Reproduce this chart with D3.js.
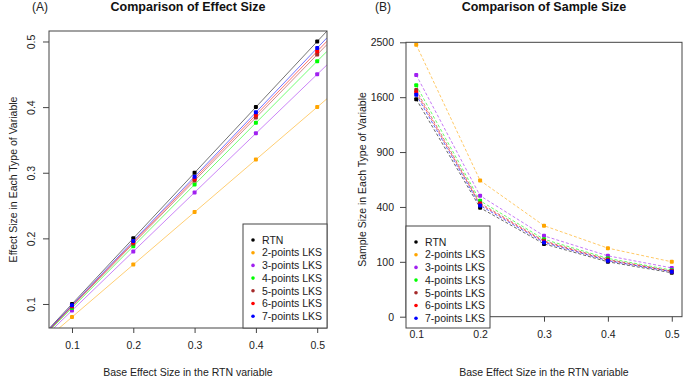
<!DOCTYPE html>
<html><head><meta charset="utf-8">
<script src="https://cdn.jsdelivr.net/npm/d3@7"></script>
<style>body{margin:0;background:#fff}svg{display:block;font-family:"Liberation Sans",Arial,sans-serif}</style>
</head><body><svg id="c" width="685" height="378"></svg>
<script>
// ---- data ----
const baseEffect = [0.1, 0.2, 0.3, 0.4, 0.5];
const seriesNames = ["RTN","2-points LKS","3-points LKS","4-points LKS","5-points LKS","6-points LKS","7-points LKS"];
const seriesColors = ["#000000","#FFA500","#A020F0","#00FF00","#A52A2A","#FF0000","#0000FF"];
const slopeRatio = [1.00, 0.80, 0.90, 0.94, 0.96, 0.97, 0.98];
const effRTN = [0.1, 0.2, 0.3, 0.4, 0.5];
const eff2 = [0.08, 0.16, 0.24, 0.32, 0.40];
const eff3 = [0.09, 0.18, 0.27, 0.36, 0.45];
const eff4 = [0.094, 0.188, 0.282, 0.376, 0.47];
const eff5 = [0.096, 0.192, 0.288, 0.384, 0.48];
const eff6 = [0.097, 0.194, 0.291, 0.388, 0.485];
const eff7 = [0.098, 0.196, 0.294, 0.392, 0.49];
const nRTN = [1571, 394, 176, 100, 64];
const n2 = [2455, 616, 275, 156, 100];
const n3 = [1940, 486, 217, 123, 79];
const n4 = [1778, 446, 199, 113, 72];
const n5 = [1705, 428, 191, 109, 69];
const n6 = [1670, 419, 187, 106, 68];
const n7 = [1636, 410, 183, 104, 67];
const effTicks = [0.1, 0.2, 0.3, 0.4, 0.5];
const nTicks = [0, 100, 400, 900, 1600, 2500];
const effSeries = [effRTN, eff2, eff3, eff4, eff5, eff6, eff7];
const nSeries = [nRTN, n2, n3, n4, n5, n6, n7];

const svg = d3.select("#c");
const FS = 10.5, TXT = "#222", BOX = "#444";

function panel(o) {
  const g = svg.append("g");
  const {x, y} = o;
  const [x0, x1] = x.range(), [y0, y1] = y.range();
  const cp = "clip" + o.id;
  svg.append("clipPath").attr("id", cp).append("rect")
    .attr("x", x0).attr("y", y1).attr("width", x1 - x0).attr("height", y0 - y1);
  // axes
  const xa = g.append("g").attr("transform", `translate(0,${y0})`)
    .call(d3.axisBottom(x).tickValues(effTicks).tickSize(5).tickPadding(9).tickFormat(d3.format(".1f")));
  const ya = g.append("g").attr("transform", `translate(${x0},0)`)
    .call(d3.axisLeft(y).tickValues(o.yTicks).tickSize(6).tickPadding(6).tickFormat(o.yFmt));
  [xa, ya].forEach(a => {
    a.select(".domain").remove();
    a.selectAll("line").attr("stroke", BOX);
    a.selectAll("text").attr("fill", TXT).style("font-size", FS + "px").style("font-family", "Liberation Sans, Arial, sans-serif");
  });
  if (o.rotY) {
    ya.selectAll("text").attr("x", -18).attr("y", 0).attr("dy", "0.35em")
      .attr("text-anchor", "middle").attr("transform", "rotate(-90,-18,0)");
  }
  // marks
  o.draw(g.append("g").attr("clip-path", `url(#${cp})`));
  // box
  g.append("rect").attr("x", x0).attr("y", y1).attr("width", x1 - x0).attr("height", y0 - y1)
    .attr("fill", "none").attr("stroke", BOX).attr("stroke-width", 1);
  // titles
  g.append("text").attr("x", (x0 + x1) / 2).attr("y", 11).attr("text-anchor", "middle")
    .style("font-size", "12.5px").style("font-weight", "bold").attr("fill", "#111").text(o.title);
  g.append("text").attr("x", o.labX).attr("y", 11).attr("text-anchor", "middle")
    .style("font-size", "12px").attr("fill", TXT).text(o.label);
  g.append("text").attr("x", (x0 + x1) / 2).attr("y", 376).attr("text-anchor", "middle")
    .style("font-size", FS + "px").attr("fill", TXT).text("Base Effect Size in the RTN variable");
  g.append("text").attr("transform", `translate(${o.yTitleX},${(y0 + y1) / 2}) rotate(-90)`)
    .attr("text-anchor", "middle").style("font-size", FS + "px").attr("fill", TXT).text(o.yTitle);
  // legend
  const L = o.legend;
  const lg = g.append("g");
  lg.append("rect").attr("x", L.x).attr("y", L.y).attr("width", L.w).attr("height", L.h)
    .attr("fill", "#fff").attr("stroke", BOX);
  seriesNames.forEach((nm, i) => {
    const yy = L.y + 16 + i * 12.7;
    lg.append("circle").attr("cx", L.x + 10).attr("cy", yy).attr("r", 1.8).attr("fill", seriesColors[i]);
    lg.append("text").attr("x", L.x + 19).attr("y", yy).attr("dy", "0.36em")
      .style("font-size", FS + "px").attr("fill", TXT).text(nm);
  });
}

// Panel A
const xA = d3.scaleLinear().domain([0.0625, 0.516]).range([49, 327]);
const yA = d3.scaleLinear().domain([0.0634, 0.516]).range([328, 31]);
panel({
  id: "A", x: xA, y: yA, yTicks: effTicks, yFmt: d3.format(".1f"), rotY: true,
  title: "Comparison of Effect Size", label: "(A)", labX: 40,
  yTitle: "Effect Size in Each Type of Variable", yTitleX: 17,
  legend: {x: 243, y: 224, w: 84, h: 104},
  draw: gg => {
    const dom = xA.domain();
    slopeRatio.forEach((k, i) => {
      gg.append("line").attr("x1", xA(dom[0])).attr("y1", yA(dom[0] * k))
        .attr("x2", xA(dom[1])).attr("y2", yA(dom[1] * k))
        .attr("stroke", seriesColors[i]).attr("stroke-opacity", 0.55).attr("stroke-width", 1);
    });
    effSeries.forEach((s, i) => {
      gg.selectAll(null).data(s).join("rect")
        .attr("x", (d, j) => xA(baseEffect[j]) - 2).attr("y", d => yA(d) - 2)
        .attr("width", 4).attr("height", 4).attr("rx", 1).attr("fill", seriesColors[i]);
    });
  }
});

// Panel B (square-root y scale)
const xB = d3.scaleLinear().domain([0.084, 0.516]).range([406, 682]);
const yB = d3.scaleLinear().domain([-2.06, 52.06]).range([328, 31]);
const yBs = v => yB(Math.sqrt(v));
const yBaxis = d3.scaleSqrt().domain([0, 2500]).range([yB(0), yB(50)]);
panel({
  id: "B", x: xB, y: yBaxis, yTicks: nTicks, yFmt: d3.format("d"), rotY: false,
  title: "Comparison of Sample Size", label: "(B)", labX: 383,
  yTitle: "Sample Size in Each Type of Variable", yTitleX: 366,
  legend: {x: 406, y: 226, w: 84, h: 102},
  draw: gg => {
    const line = d3.line().x((d, j) => xB(baseEffect[j])).y(d => yBs(d));
    nSeries.forEach((s, i) => {
      gg.append("path").attr("d", line(s)).attr("fill", "none")
        .attr("stroke", seriesColors[i]).attr("stroke-opacity", 0.6)
        .attr("stroke-width", 1).attr("stroke-dasharray", "3,2");
    });
    nSeries.forEach((s, i) => {
      gg.selectAll(null).data(s).join("rect")
        .attr("x", (d, j) => xB(baseEffect[j]) - 2).attr("y", d => yBs(d) - 2)
        .attr("width", 4).attr("height", 4).attr("rx", 1).attr("fill", seriesColors[i]);
    });
  }
});
</script></body></html>
